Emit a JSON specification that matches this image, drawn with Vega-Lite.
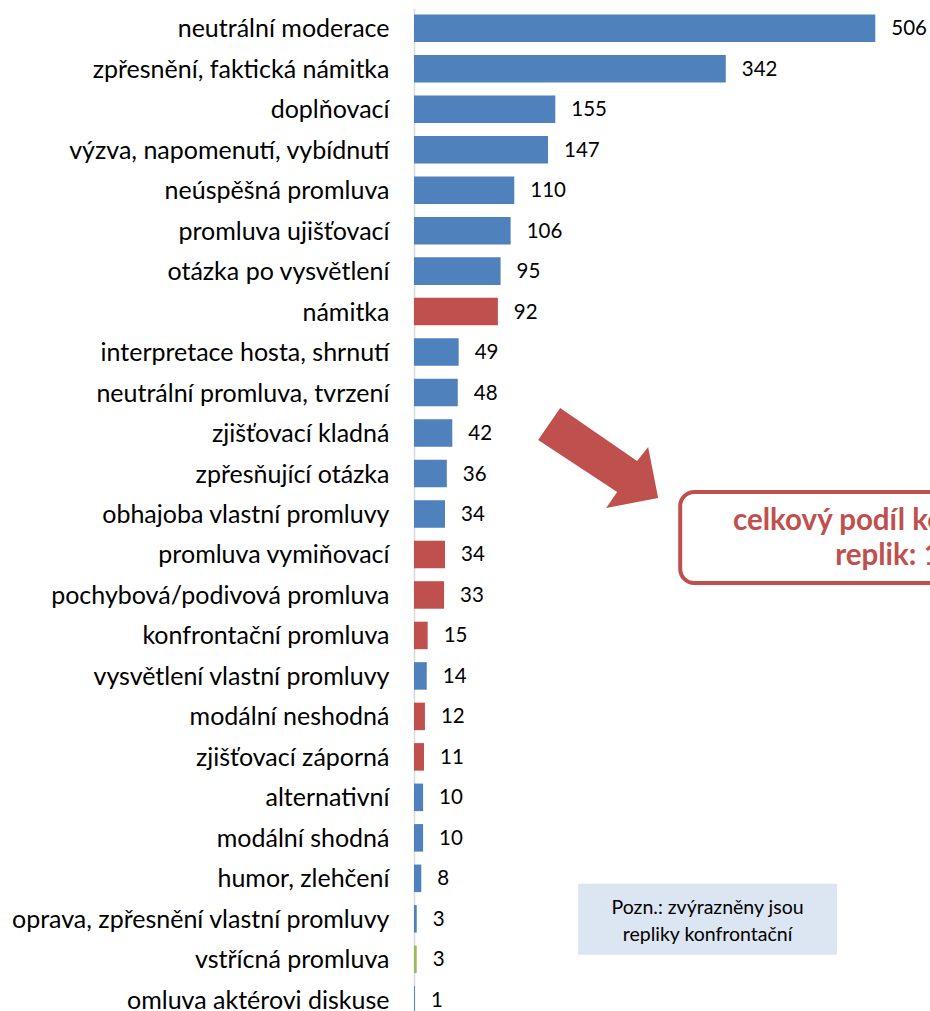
{
  "$schema": "https://vega.github.io/schema/vega-lite/v6.json",
  "autosize": {"type": "none"},
  "padding": {"left": 414, "top": 8, "right": 0, "bottom": 0},
  "width": 516,
  "height": 1012,
  "background": "white",
  "config": {"view": {"stroke": null}, "font": "Lato"},
  "data": {
    "values": [
      {"kategorie": "neutrální moderace", "pocet": 506, "skupina": "ostatní"},
      {"kategorie": "zpřesnění, faktická námitka", "pocet": 342, "skupina": "ostatní"},
      {"kategorie": "doplňovací", "pocet": 155, "skupina": "ostatní"},
      {"kategorie": "výzva, napomenutí, vybídnutí", "pocet": 147, "skupina": "ostatní"},
      {"kategorie": "neúspěšná promluva", "pocet": 110, "skupina": "ostatní"},
      {"kategorie": "promluva ujišťovací", "pocet": 106, "skupina": "ostatní"},
      {"kategorie": "otázka po vysvětlení", "pocet": 95, "skupina": "ostatní"},
      {"kategorie": "námitka", "pocet": 92, "skupina": "konfrontační"},
      {"kategorie": "interpretace hosta, shrnutí", "pocet": 49, "skupina": "ostatní"},
      {"kategorie": "neutrální promluva, tvrzení", "pocet": 48, "skupina": "ostatní"},
      {"kategorie": "zjišťovací kladná", "pocet": 42, "skupina": "ostatní"},
      {"kategorie": "zpřesňující otázka", "pocet": 36, "skupina": "ostatní"},
      {"kategorie": "obhajoba vlastní promluvy", "pocet": 34, "skupina": "ostatní"},
      {"kategorie": "promluva vymiňovací", "pocet": 34, "skupina": "konfrontační"},
      {"kategorie": "pochybová/podivová promluva", "pocet": 33, "skupina": "konfrontační"},
      {"kategorie": "konfrontační promluva", "pocet": 15, "skupina": "konfrontační"},
      {"kategorie": "vysvětlení vlastní promluvy", "pocet": 14, "skupina": "ostatní"},
      {"kategorie": "modální neshodná", "pocet": 12, "skupina": "konfrontační"},
      {"kategorie": "zjišťovací záporná", "pocet": 11, "skupina": "konfrontační"},
      {"kategorie": "alternativní", "pocet": 10, "skupina": "ostatní"},
      {"kategorie": "modální shodná ", "pocet": 10, "skupina": "ostatní"},
      {"kategorie": "humor, zlehčení", "pocet": 8, "skupina": "ostatní"},
      {"kategorie": "oprava, zpřesnění vlastní promluvy", "pocet": 3, "skupina": "ostatní"},
      {"kategorie": "vstřícná promluva", "pocet": 3, "skupina": "vstřícná"},
      {"kategorie": "omluva aktérovi diskuse", "pocet": 1, "skupina": "ostatní"}
    ]
  },
  "encoding": {
    "y": {
      "field": "kategorie",
      "type": "nominal",
      "sort": null,
      "scale": {"paddingInner": 0.32, "paddingOuter": 0.16},
      "axis": {
        "title": null,
        "ticks": false,
        "tickSize": 0,
        "labelPadding": 25,
        "labelFontSize": 25,
        "labelColor": "#000000",
        "labelLimit": 600,
        "labelOffset": 1,
        "domainColor": "#d9d9d9",
        "domainWidth": 1.5
      }
    }
  },
  "layer": [
    {
      "mark": {"type": "bar"},
      "encoding": {
        "x": {"field": "pocet", "type": "quantitative", "scale": {"domain": [0, 566], "nice": false}, "axis": null},
        "color": {
          "field": "skupina",
          "type": "nominal",
          "scale": {"domain": ["ostatní", "konfrontační", "vstřícná"], "range": ["#4F81BD", "#C0504D", "#9BBB59"]},
          "legend": null
        }
      }
    },
    {
      "mark": {"type": "text", "align": "left", "baseline": "middle", "dx": 16, "dy": 1, "fontSize": 20.5, "color": "#000000"},
      "encoding": {
        "x": {"field": "pocet", "type": "quantitative"},
        "text": {"field": "pocet", "type": "quantitative"}
      }
    },
    {
      "data": {"values": [{}]},
      "mark": {"type": "point", "shape": "M-0.633,-1.092L0.65,-0.208L0.833,-0.442L1,0.408L0.133,0.575L0.317,0.308L-1,-0.558Z", "size": 14400, "filled": true, "color": "#C0504D", "opacity": 1, "strokeWidth": 0},
      "encoding": {
        "x": {"datum": 202, "type": "quantitative"},
        "y": {"datum": "zpřesňující otázka", "type": "nominal"}
      }
    },
    {
      "data": {"values": [{}]},
      "mark": {"type": "bar", "height": 91, "yOffset": 23.5, "cornerRadius": 14, "fill": "#ffffff", "stroke": "#C0504D", "strokeWidth": 4},
      "encoding": {
        "x": {"datum": 292, "type": "quantitative"},
        "x2": {"datum": 800},
        "y": {"datum": "obhajoba vlastní promluvy", "type": "nominal"}
      }
    },
    {
      "data": {"values": [{}]},
      "mark": {"type": "text", "align": "left", "baseline": "middle", "dy": 7, "fontSize": 29.5, "fontWeight": "bold", "color": "#C0504D"},
      "encoding": {
        "x": {"datum": 350, "type": "quantitative"},
        "y": {"datum": "obhajoba vlastní promluvy", "type": "nominal"},
        "text": {"value": "celkový podíl konfrontačních"}
      }
    },
    {
      "data": {"values": [{}]},
      "mark": {"type": "text", "align": "left", "baseline": "middle", "dy": 1.5, "fontSize": 29.5, "fontWeight": "bold", "color": "#C0504D"},
      "encoding": {
        "x": {"datum": 462, "type": "quantitative"},
        "y": {"datum": "promluva vymiňovací", "type": "nominal"},
        "text": {"value": "replik: 10,3 %"}
      }
    },
    {
      "data": {"values": [{}]},
      "mark": {"type": "bar", "height": 71, "yOffset": 0.5, "fill": "#DCE6F2"},
      "encoding": {
        "x": {"datum": 180, "type": "quantitative"},
        "x2": {"datum": 464},
        "y": {"datum": "oprava, zpřesnění vlastní promluvy", "type": "nominal"}
      }
    },
    {
      "data": {"values": [{}]},
      "mark": {"type": "text", "align": "center", "baseline": "middle", "dy": -11, "fontSize": 19.5, "color": "#000000"},
      "encoding": {
        "x": {"datum": 322, "type": "quantitative"},
        "y": {"datum": "oprava, zpřesnění vlastní promluvy", "type": "nominal"},
        "text": {"value": "Pozn.: zvýrazněny jsou"}
      }
    },
    {
      "data": {"values": [{}]},
      "mark": {"type": "text", "align": "center", "baseline": "middle", "dy": 16, "fontSize": 19.5, "color": "#000000"},
      "encoding": {
        "x": {"datum": 322, "type": "quantitative"},
        "y": {"datum": "oprava, zpřesnění vlastní promluvy", "type": "nominal"},
        "text": {"value": "repliky konfrontační"}
      }
    }
  ]
}
